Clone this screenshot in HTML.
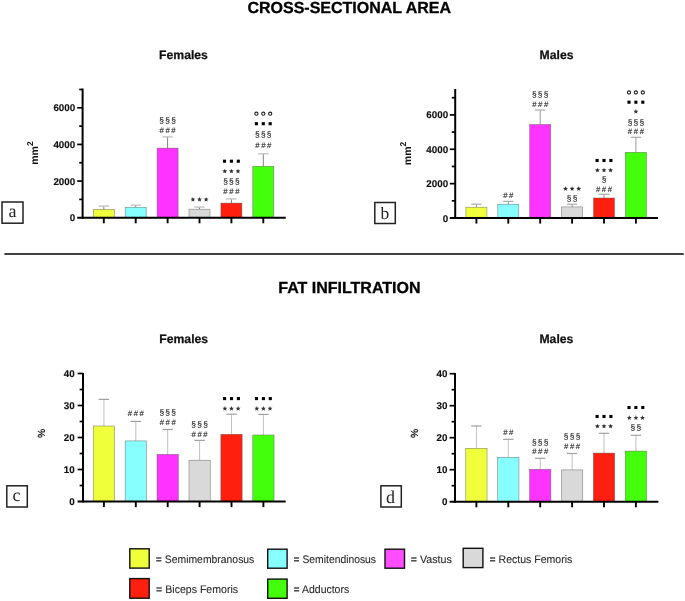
<!DOCTYPE html>
<html><head><meta charset="utf-8"><style>
html,body{margin:0;padding:0;background:#fff;}
body{width:685px;height:601px;overflow:hidden;}
svg{display:block;will-change:transform;}
text{font-family:"Liberation Sans",sans-serif;text-rendering:geometricPrecision;}
.yl{font-size:9.8px;stroke:#111;stroke-width:0.15px;font-weight:bold;text-anchor:end;fill:#111;}
.an{font-size:7px;text-anchor:middle;fill:#2a2a2a;stroke:#2a2a2a;stroke-width:0.12px;}
.tt{font-size:16px;font-weight:bold;text-anchor:middle;fill:#000;stroke:#000;stroke-width:0.3px;}
.st{font-size:12.2px;font-weight:bold;text-anchor:middle;fill:#111;stroke:#111;stroke-width:0.25px;}
.ax{font-size:10.5px;font-weight:bold;fill:#111;}
.bx{font-family:"Liberation Serif",serif;font-size:18px;text-anchor:middle;fill:#222;}
.lg{font-size:11px;fill:#2a2a2a;stroke:#2a2a2a;stroke-width:0.1px;}
</style></head><body>
<svg width="685" height="601" viewBox="0 0 685 601">
<text x="349.2" y="13.2" class="tt">CROSS-SECTIONAL AREA</text>
<text x="183.5" y="58.9" class="st">Females</text>
<text x="556.5" y="58.8" class="st">Males</text>
<line x1="4.4" y1="254" x2="683.7" y2="254" stroke="#000" stroke-width="1.7"/>
<text x="349.4" y="293" class="tt">FAT INFILTRATION</text>
<text x="183.7" y="342.8" class="st">Females</text>
<text x="556.4" y="342.6" class="st">Males</text>
<!-- y-axis titles -->
<text transform="translate(37.9,164.8) rotate(-90)" class="ax">mm<tspan dy="-5.3" style="font-size:8.5px">2</tspan></text>
<text transform="translate(411,165.2) rotate(-90)" class="ax">mm<tspan dy="-5.3" style="font-size:8.5px">2</tspan></text>
<text transform="translate(44.8,438) rotate(-90)" class="ax">%</text>
<text transform="translate(417.8,438) rotate(-90)" class="ax">%</text>
<!-- panel boxes -->
<rect x="2" y="202" width="21" height="21.2" fill="none" stroke="#222" stroke-width="1.5"/>
<text x="12.4" y="216.9" class="bx">a</text>
<rect x="374.8" y="202.5" width="20.5" height="21" fill="none" stroke="#222" stroke-width="1.5"/>
<text x="384.9" y="219.1" class="bx" style="font-size:17.4px">b</text>
<rect x="6.8" y="485.8" width="20.5" height="21.2" fill="none" stroke="#222" stroke-width="1.5"/>
<text x="16.4" y="501" class="bx">c</text>
<rect x="380.9" y="485.8" width="20.4" height="21.2" fill="none" stroke="#222" stroke-width="1.5"/>
<text x="390.5" y="502.6" class="bx">d</text>
<line x1="103.8" y1="206.1" x2="103.8" y2="209.3" stroke="#808080" stroke-width="1"/>
<line x1="98.6" y1="206.1" x2="109" y2="206.1" stroke="#c4c4c4" stroke-width="1.4"/>
<rect x="93.3" y="209.3" width="21" height="8.4" fill="#f0ff3c" stroke="#555" stroke-opacity="0.7" stroke-width="0.6"/>
<line x1="103.8" y1="217.7" x2="103.8" y2="223.3" stroke="#000" stroke-width="1.9"/>
<line x1="135.7" y1="205.2" x2="135.7" y2="207.3" stroke="#808080" stroke-width="1"/>
<line x1="130.5" y1="205.2" x2="140.9" y2="205.2" stroke="#c4c4c4" stroke-width="1.4"/>
<rect x="125.2" y="207.3" width="21" height="10.4" fill="#88ffff" stroke="#555" stroke-opacity="0.7" stroke-width="0.6"/>
<line x1="135.7" y1="217.7" x2="135.7" y2="223.3" stroke="#000" stroke-width="1.9"/>
<line x1="167.6" y1="136.9" x2="167.6" y2="148.1" stroke="#808080" stroke-width="1"/>
<line x1="162.4" y1="136.9" x2="172.8" y2="136.9" stroke="#c4c4c4" stroke-width="1.4"/>
<rect x="157.1" y="148.1" width="21" height="69.6" fill="#ff33ff" stroke="#555" stroke-opacity="0.7" stroke-width="0.6"/>
<line x1="167.6" y1="217.7" x2="167.6" y2="223.3" stroke="#000" stroke-width="1.9"/>
<text x="161.7" y="133.35" class="an" style="font-size:7.8px">#</text>
<text x="167.6" y="133.35" class="an" style="font-size:7.8px">#</text>
<text x="173.5" y="133.35" class="an" style="font-size:7.8px">#</text>
<text x="161.7" y="123.1" class="an" style="font-size:8.4px">§</text>
<text x="167.6" y="123.1" class="an" style="font-size:8.4px">§</text>
<text x="173.5" y="123.1" class="an" style="font-size:8.4px">§</text>
<line x1="199.5" y1="207.1" x2="199.5" y2="209.2" stroke="#808080" stroke-width="1"/>
<line x1="194.3" y1="207.1" x2="204.7" y2="207.1" stroke="#c4c4c4" stroke-width="1.4"/>
<rect x="189" y="209.2" width="21" height="8.5" fill="#d9d9d9" stroke="#555" stroke-opacity="0.7" stroke-width="0.6"/>
<line x1="199.5" y1="217.7" x2="199.5" y2="223.3" stroke="#000" stroke-width="1.9"/>
<polygon points="192.9,196.95 193.57,198.57 195.33,198.71 193.99,199.85 194.4,201.56 192.9,200.65 191.4,201.56 191.81,199.85 190.47,198.71 192.23,198.57" fill="#333"/>
<polygon points="199.5,196.95 200.17,198.57 201.93,198.71 200.59,199.85 201,201.56 199.5,200.65 198,201.56 198.41,199.85 197.07,198.71 198.83,198.57" fill="#333"/>
<polygon points="206.1,196.95 206.77,198.57 208.53,198.71 207.19,199.85 207.6,201.56 206.1,200.65 204.6,201.56 205.01,199.85 203.67,198.71 205.43,198.57" fill="#333"/>
<line x1="231.4" y1="198.9" x2="231.4" y2="203.1" stroke="#808080" stroke-width="1"/>
<line x1="226.2" y1="198.9" x2="236.6" y2="198.9" stroke="#c4c4c4" stroke-width="1.4"/>
<rect x="220.9" y="203.1" width="21" height="14.6" fill="#ff1f0e" stroke="#555" stroke-opacity="0.7" stroke-width="0.6"/>
<line x1="231.4" y1="217.7" x2="231.4" y2="223.3" stroke="#000" stroke-width="1.9"/>
<text x="225.5" y="193.85" class="an" style="font-size:7.8px">#</text>
<text x="231.4" y="193.85" class="an" style="font-size:7.8px">#</text>
<text x="237.3" y="193.85" class="an" style="font-size:7.8px">#</text>
<text x="225.5" y="184.2" class="an" style="font-size:8.4px">§</text>
<text x="231.4" y="184.2" class="an" style="font-size:8.4px">§</text>
<text x="237.3" y="184.2" class="an" style="font-size:8.4px">§</text>
<polygon points="224.8,168.75 225.47,170.37 227.23,170.51 225.89,171.65 226.3,173.36 224.8,172.45 223.3,173.36 223.71,171.65 222.37,170.51 224.13,170.37" fill="#333"/>
<polygon points="231.4,168.75 232.07,170.37 233.83,170.51 232.49,171.65 232.9,173.36 231.4,172.45 229.9,173.36 230.31,171.65 228.97,170.51 230.73,170.37" fill="#333"/>
<polygon points="238,168.75 238.67,170.37 240.43,170.51 239.09,171.65 239.5,173.36 238,172.45 236.5,173.36 236.91,171.65 235.57,170.51 237.33,170.37" fill="#333"/>
<rect x="222.95" y="159.65" width="3.1" height="3.1" fill="#000"/>
<rect x="229.85" y="159.65" width="3.1" height="3.1" fill="#000"/>
<rect x="236.75" y="159.65" width="3.1" height="3.1" fill="#000"/>
<line x1="263.3" y1="153.75" x2="263.3" y2="166.25" stroke="#808080" stroke-width="1"/>
<line x1="258.1" y1="153.75" x2="268.5" y2="153.75" stroke="#c4c4c4" stroke-width="1.4"/>
<rect x="252.8" y="166.25" width="21" height="51.45" fill="#44ff0c" stroke="#555" stroke-opacity="0.7" stroke-width="0.6"/>
<line x1="263.3" y1="217.7" x2="263.3" y2="223.3" stroke="#000" stroke-width="1.9"/>
<text x="257.4" y="147.55" class="an" style="font-size:7.8px">#</text>
<text x="263.3" y="147.55" class="an" style="font-size:7.8px">#</text>
<text x="269.2" y="147.55" class="an" style="font-size:7.8px">#</text>
<text x="257.4" y="136.7" class="an" style="font-size:8.4px">§</text>
<text x="263.3" y="136.7" class="an" style="font-size:8.4px">§</text>
<text x="269.2" y="136.7" class="an" style="font-size:8.4px">§</text>
<rect x="254.85" y="122.15" width="3.1" height="3.1" fill="#000"/>
<rect x="261.75" y="122.15" width="3.1" height="3.1" fill="#000"/>
<rect x="268.65" y="122.15" width="3.1" height="3.1" fill="#000"/>
<circle cx="256.4" cy="113.7" r="1.6" fill="none" stroke="#222" stroke-width="1.1"/>
<circle cx="263.3" cy="113.7" r="1.6" fill="none" stroke="#222" stroke-width="1.1"/>
<circle cx="270.2" cy="113.7" r="1.6" fill="none" stroke="#222" stroke-width="1.1"/>
<line x1="82.6" y1="88.5" x2="82.6" y2="218.7" stroke="#000" stroke-width="2"/>
<line x1="77.2" y1="217.7" x2="285.75" y2="217.7" stroke="#000" stroke-width="2"/>
<text x="75.2" y="221.25" class="yl">0</text>
<line x1="79.2" y1="199.38" x2="82.6" y2="199.38" stroke="#000" stroke-width="1.7"/>
<line x1="77.2" y1="181.07" x2="82.6" y2="181.07" stroke="#000" stroke-width="1.7"/>
<text x="75.2" y="184.62" class="yl">2000</text>
<line x1="79.2" y1="162.75" x2="82.6" y2="162.75" stroke="#000" stroke-width="1.7"/>
<line x1="77.2" y1="144.43" x2="82.6" y2="144.43" stroke="#000" stroke-width="1.7"/>
<text x="75.2" y="147.98" class="yl">4000</text>
<line x1="79.2" y1="126.12" x2="82.6" y2="126.12" stroke="#000" stroke-width="1.7"/>
<line x1="77.2" y1="107.8" x2="82.6" y2="107.8" stroke="#000" stroke-width="1.7"/>
<text x="75.2" y="111.35" class="yl">6000</text>
<line x1="79.2" y1="89.48" x2="82.6" y2="89.48" stroke="#000" stroke-width="1.7"/>
<line x1="476.4" y1="204.2" x2="476.4" y2="207.2" stroke="#999999" stroke-width="1"/>
<line x1="471.2" y1="204.2" x2="481.6" y2="204.2" stroke="#aaaaaa" stroke-width="1.2"/>
<rect x="465.9" y="207.2" width="21" height="10.8" fill="#f0ff3c" stroke="#555" stroke-opacity="0.7" stroke-width="0.6"/>
<line x1="476.4" y1="218" x2="476.4" y2="223.6" stroke="#000" stroke-width="1.9"/>
<line x1="508.3" y1="201.4" x2="508.3" y2="204.2" stroke="#999999" stroke-width="1"/>
<line x1="503.1" y1="201.4" x2="513.5" y2="201.4" stroke="#aaaaaa" stroke-width="1.2"/>
<rect x="497.8" y="204.2" width="21" height="13.8" fill="#88ffff" stroke="#555" stroke-opacity="0.7" stroke-width="0.6"/>
<line x1="508.3" y1="218" x2="508.3" y2="223.6" stroke="#000" stroke-width="1.9"/>
<text x="505.35" y="198.25" class="an" style="font-size:7.8px">#</text>
<text x="511.25" y="198.25" class="an" style="font-size:7.8px">#</text>
<line x1="540.2" y1="110" x2="540.2" y2="124.5" stroke="#999999" stroke-width="1"/>
<line x1="535" y1="110" x2="545.4" y2="110" stroke="#aaaaaa" stroke-width="1.2"/>
<rect x="529.7" y="124.5" width="21" height="93.5" fill="#ff33ff" stroke="#555" stroke-opacity="0.7" stroke-width="0.6"/>
<line x1="540.2" y1="218" x2="540.2" y2="223.6" stroke="#000" stroke-width="1.9"/>
<text x="534.3" y="107.05" class="an" style="font-size:7.8px">#</text>
<text x="540.2" y="107.05" class="an" style="font-size:7.8px">#</text>
<text x="546.1" y="107.05" class="an" style="font-size:7.8px">#</text>
<text x="534.3" y="97.2" class="an" style="font-size:8.4px">§</text>
<text x="540.2" y="97.2" class="an" style="font-size:8.4px">§</text>
<text x="546.1" y="97.2" class="an" style="font-size:8.4px">§</text>
<line x1="572.1" y1="204.2" x2="572.1" y2="206.9" stroke="#999999" stroke-width="1"/>
<line x1="566.9" y1="204.2" x2="577.3" y2="204.2" stroke="#aaaaaa" stroke-width="1.2"/>
<rect x="561.6" y="206.9" width="21" height="11.1" fill="#d9d9d9" stroke="#555" stroke-opacity="0.7" stroke-width="0.6"/>
<line x1="572.1" y1="218" x2="572.1" y2="223.6" stroke="#000" stroke-width="1.9"/>
<text x="569.15" y="200.5" class="an" style="font-size:8.4px">§</text>
<text x="575.05" y="200.5" class="an" style="font-size:8.4px">§</text>
<polygon points="565.5,186.25 566.17,187.87 567.93,188.01 566.59,189.15 567,190.86 565.5,189.95 564,190.86 564.41,189.15 563.07,188.01 564.83,187.87" fill="#333"/>
<polygon points="572.1,186.25 572.77,187.87 574.53,188.01 573.19,189.15 573.6,190.86 572.1,189.95 570.6,190.86 571.01,189.15 569.67,188.01 571.43,187.87" fill="#333"/>
<polygon points="578.7,186.25 579.37,187.87 581.13,188.01 579.79,189.15 580.2,190.86 578.7,189.95 577.2,190.86 577.61,189.15 576.27,188.01 578.03,187.87" fill="#333"/>
<line x1="604" y1="194.3" x2="604" y2="198" stroke="#999999" stroke-width="1"/>
<line x1="598.8" y1="194.3" x2="609.2" y2="194.3" stroke="#aaaaaa" stroke-width="1.2"/>
<rect x="593.5" y="198" width="21" height="20" fill="#ff1f0e" stroke="#555" stroke-opacity="0.7" stroke-width="0.6"/>
<line x1="604" y1="218" x2="604" y2="223.6" stroke="#000" stroke-width="1.9"/>
<text x="598.1" y="192.15" class="an" style="font-size:7.8px">#</text>
<text x="604" y="192.15" class="an" style="font-size:7.8px">#</text>
<text x="609.9" y="192.15" class="an" style="font-size:7.8px">#</text>
<text x="604" y="181.8" class="an" style="font-size:8.4px">§</text>
<polygon points="597.4,167.75 598.07,169.37 599.83,169.51 598.49,170.65 598.9,172.36 597.4,171.45 595.9,172.36 596.31,170.65 594.97,169.51 596.73,169.37" fill="#333"/>
<polygon points="604,167.75 604.67,169.37 606.43,169.51 605.09,170.65 605.5,172.36 604,171.45 602.5,172.36 602.91,170.65 601.57,169.51 603.33,169.37" fill="#333"/>
<polygon points="610.6,167.75 611.27,169.37 613.03,169.51 611.69,170.65 612.1,172.36 610.6,171.45 609.1,172.36 609.51,170.65 608.17,169.51 609.93,169.37" fill="#333"/>
<rect x="595.55" y="158.95" width="3.1" height="3.1" fill="#000"/>
<rect x="602.45" y="158.95" width="3.1" height="3.1" fill="#000"/>
<rect x="609.35" y="158.95" width="3.1" height="3.1" fill="#000"/>
<line x1="635.9" y1="137.3" x2="635.9" y2="152.3" stroke="#999999" stroke-width="1"/>
<line x1="630.7" y1="137.3" x2="641.1" y2="137.3" stroke="#aaaaaa" stroke-width="1.2"/>
<rect x="625.4" y="152.3" width="21" height="65.7" fill="#44ff0c" stroke="#555" stroke-opacity="0.7" stroke-width="0.6"/>
<line x1="635.9" y1="218" x2="635.9" y2="223.6" stroke="#000" stroke-width="1.9"/>
<text x="630" y="134.35" class="an" style="font-size:7.8px">#</text>
<text x="635.9" y="134.35" class="an" style="font-size:7.8px">#</text>
<text x="641.8" y="134.35" class="an" style="font-size:7.8px">#</text>
<text x="630" y="124.5" class="an" style="font-size:8.4px">§</text>
<text x="635.9" y="124.5" class="an" style="font-size:8.4px">§</text>
<text x="641.8" y="124.5" class="an" style="font-size:8.4px">§</text>
<polygon points="635.9,109.05 636.57,110.67 638.33,110.81 636.99,111.95 637.4,113.66 635.9,112.75 634.4,113.66 634.81,111.95 633.47,110.81 635.23,110.67" fill="#333"/>
<rect x="627.45" y="100.65" width="3.1" height="3.1" fill="#000"/>
<rect x="634.35" y="100.65" width="3.1" height="3.1" fill="#000"/>
<rect x="641.25" y="100.65" width="3.1" height="3.1" fill="#000"/>
<circle cx="629" cy="92.5" r="1.6" fill="none" stroke="#222" stroke-width="1.1"/>
<circle cx="635.9" cy="92.5" r="1.6" fill="none" stroke="#222" stroke-width="1.1"/>
<circle cx="642.8" cy="92.5" r="1.6" fill="none" stroke="#222" stroke-width="1.1"/>
<line x1="455.2" y1="89" x2="455.2" y2="219" stroke="#000" stroke-width="2"/>
<line x1="449.8" y1="218" x2="658" y2="218" stroke="#000" stroke-width="2"/>
<text x="448.1" y="221.55" class="yl">0</text>
<line x1="451.8" y1="200.82" x2="455.2" y2="200.82" stroke="#000" stroke-width="1.7"/>
<line x1="449.8" y1="183.63" x2="455.2" y2="183.63" stroke="#000" stroke-width="1.7"/>
<text x="448.1" y="187.18" class="yl">2000</text>
<line x1="451.8" y1="166.45" x2="455.2" y2="166.45" stroke="#000" stroke-width="1.7"/>
<line x1="449.8" y1="149.27" x2="455.2" y2="149.27" stroke="#000" stroke-width="1.7"/>
<text x="448.1" y="152.82" class="yl">4000</text>
<line x1="451.8" y1="132.08" x2="455.2" y2="132.08" stroke="#000" stroke-width="1.7"/>
<line x1="449.8" y1="114.9" x2="455.2" y2="114.9" stroke="#000" stroke-width="1.7"/>
<text x="448.1" y="118.45" class="yl">6000</text>
<line x1="451.8" y1="97.72" x2="455.2" y2="97.72" stroke="#000" stroke-width="1.7"/>
<line x1="103.9" y1="399.4" x2="103.9" y2="426" stroke="#c0c0c0" stroke-width="1"/>
<line x1="98.7" y1="399.4" x2="109.1" y2="399.4" stroke="#a0a0a0" stroke-width="1.2"/>
<rect x="93.25" y="426" width="21.3" height="75.5" fill="#f0ff3c" stroke="#555" stroke-opacity="0.7" stroke-width="0.6"/>
<line x1="103.9" y1="501.5" x2="103.9" y2="507.1" stroke="#000" stroke-width="1.9"/>
<line x1="135.8" y1="421.4" x2="135.8" y2="440.9" stroke="#c0c0c0" stroke-width="1"/>
<line x1="130.6" y1="421.4" x2="141" y2="421.4" stroke="#a0a0a0" stroke-width="1.2"/>
<rect x="125.15" y="440.9" width="21.3" height="60.6" fill="#88ffff" stroke="#555" stroke-opacity="0.7" stroke-width="0.6"/>
<line x1="135.8" y1="501.5" x2="135.8" y2="507.1" stroke="#000" stroke-width="1.9"/>
<text x="129.9" y="416.15" class="an" style="font-size:7.8px">#</text>
<text x="135.8" y="416.15" class="an" style="font-size:7.8px">#</text>
<text x="141.7" y="416.15" class="an" style="font-size:7.8px">#</text>
<line x1="167.7" y1="429.5" x2="167.7" y2="454.4" stroke="#c0c0c0" stroke-width="1"/>
<line x1="162.5" y1="429.5" x2="172.9" y2="429.5" stroke="#a0a0a0" stroke-width="1.2"/>
<rect x="157.05" y="454.4" width="21.3" height="47.1" fill="#ff33ff" stroke="#555" stroke-opacity="0.7" stroke-width="0.6"/>
<line x1="167.7" y1="501.5" x2="167.7" y2="507.1" stroke="#000" stroke-width="1.9"/>
<text x="161.8" y="424.85" class="an" style="font-size:7.8px">#</text>
<text x="167.7" y="424.85" class="an" style="font-size:7.8px">#</text>
<text x="173.6" y="424.85" class="an" style="font-size:7.8px">#</text>
<text x="161.8" y="414.7" class="an" style="font-size:8.4px">§</text>
<text x="167.7" y="414.7" class="an" style="font-size:8.4px">§</text>
<text x="173.6" y="414.7" class="an" style="font-size:8.4px">§</text>
<line x1="199.6" y1="440.4" x2="199.6" y2="460.2" stroke="#c0c0c0" stroke-width="1"/>
<line x1="194.4" y1="440.4" x2="204.8" y2="440.4" stroke="#a0a0a0" stroke-width="1.2"/>
<rect x="188.95" y="460.2" width="21.3" height="41.3" fill="#d9d9d9" stroke="#555" stroke-opacity="0.7" stroke-width="0.6"/>
<line x1="199.6" y1="501.5" x2="199.6" y2="507.1" stroke="#000" stroke-width="1.9"/>
<text x="193.7" y="437.05" class="an" style="font-size:7.8px">#</text>
<text x="199.6" y="437.05" class="an" style="font-size:7.8px">#</text>
<text x="205.5" y="437.05" class="an" style="font-size:7.8px">#</text>
<text x="193.7" y="426.8" class="an" style="font-size:8.4px">§</text>
<text x="199.6" y="426.8" class="an" style="font-size:8.4px">§</text>
<text x="205.5" y="426.8" class="an" style="font-size:8.4px">§</text>
<line x1="231.5" y1="414.2" x2="231.5" y2="434.3" stroke="#c0c0c0" stroke-width="1"/>
<line x1="226.3" y1="414.2" x2="236.7" y2="414.2" stroke="#a0a0a0" stroke-width="1.2"/>
<rect x="220.85" y="434.3" width="21.3" height="67.2" fill="#ff1f0e" stroke="#555" stroke-opacity="0.7" stroke-width="0.6"/>
<line x1="231.5" y1="501.5" x2="231.5" y2="507.1" stroke="#000" stroke-width="1.9"/>
<polygon points="224.9,406.05 225.57,407.67 227.33,407.81 225.99,408.95 226.4,410.66 224.9,409.75 223.4,410.66 223.81,408.95 222.47,407.81 224.23,407.67" fill="#333"/>
<polygon points="231.5,406.05 232.17,407.67 233.93,407.81 232.59,408.95 233,410.66 231.5,409.75 230,410.66 230.41,408.95 229.07,407.81 230.83,407.67" fill="#333"/>
<polygon points="238.1,406.05 238.77,407.67 240.53,407.81 239.19,408.95 239.6,410.66 238.1,409.75 236.6,410.66 237.01,408.95 235.67,407.81 237.43,407.67" fill="#333"/>
<rect x="223.05" y="397.05" width="3.1" height="3.1" fill="#000"/>
<rect x="229.95" y="397.05" width="3.1" height="3.1" fill="#000"/>
<rect x="236.85" y="397.05" width="3.1" height="3.1" fill="#000"/>
<line x1="263.4" y1="414.4" x2="263.4" y2="435" stroke="#c0c0c0" stroke-width="1"/>
<line x1="258.2" y1="414.4" x2="268.6" y2="414.4" stroke="#a0a0a0" stroke-width="1.2"/>
<rect x="252.75" y="435" width="21.3" height="66.5" fill="#44ff0c" stroke="#555" stroke-opacity="0.7" stroke-width="0.6"/>
<line x1="263.4" y1="501.5" x2="263.4" y2="507.1" stroke="#000" stroke-width="1.9"/>
<polygon points="256.8,406.05 257.47,407.67 259.23,407.81 257.89,408.95 258.3,410.66 256.8,409.75 255.3,410.66 255.71,408.95 254.37,407.81 256.13,407.67" fill="#333"/>
<polygon points="263.4,406.05 264.07,407.67 265.83,407.81 264.49,408.95 264.9,410.66 263.4,409.75 261.9,410.66 262.31,408.95 260.97,407.81 262.73,407.67" fill="#333"/>
<polygon points="270,406.05 270.67,407.67 272.43,407.81 271.09,408.95 271.5,410.66 270,409.75 268.5,410.66 268.91,408.95 267.57,407.81 269.33,407.67" fill="#333"/>
<rect x="254.95" y="397.05" width="3.1" height="3.1" fill="#000"/>
<rect x="261.85" y="397.05" width="3.1" height="3.1" fill="#000"/>
<rect x="268.75" y="397.05" width="3.1" height="3.1" fill="#000"/>
<line x1="83" y1="372.9" x2="83" y2="502.5" stroke="#000" stroke-width="2"/>
<line x1="77.6" y1="501.5" x2="285.7" y2="501.5" stroke="#000" stroke-width="2"/>
<text x="74.6" y="505.05" class="yl">0</text>
<line x1="79.6" y1="485.5" x2="83" y2="485.5" stroke="#000" stroke-width="1.7"/>
<line x1="77.6" y1="469.5" x2="83" y2="469.5" stroke="#000" stroke-width="1.7"/>
<text x="74.6" y="473.05" class="yl">10</text>
<line x1="79.6" y1="453.5" x2="83" y2="453.5" stroke="#000" stroke-width="1.7"/>
<line x1="77.6" y1="437.5" x2="83" y2="437.5" stroke="#000" stroke-width="1.7"/>
<text x="74.6" y="441.05" class="yl">20</text>
<line x1="79.6" y1="421.5" x2="83" y2="421.5" stroke="#000" stroke-width="1.7"/>
<line x1="77.6" y1="405.5" x2="83" y2="405.5" stroke="#000" stroke-width="1.7"/>
<text x="74.6" y="409.05" class="yl">30</text>
<line x1="79.6" y1="389.5" x2="83" y2="389.5" stroke="#000" stroke-width="1.7"/>
<line x1="77.6" y1="373.5" x2="83" y2="373.5" stroke="#000" stroke-width="1.7"/>
<text x="74.6" y="377.05" class="yl">40</text>
<line x1="476.4" y1="426" x2="476.4" y2="448.3" stroke="#c0c0c0" stroke-width="1"/>
<line x1="471.2" y1="426" x2="481.6" y2="426" stroke="#a0a0a0" stroke-width="1.2"/>
<rect x="465.75" y="448.3" width="21.3" height="53.4" fill="#f0ff3c" stroke="#555" stroke-opacity="0.7" stroke-width="0.6"/>
<line x1="476.4" y1="501.7" x2="476.4" y2="507.3" stroke="#000" stroke-width="1.9"/>
<line x1="508.3" y1="439.3" x2="508.3" y2="457.3" stroke="#c0c0c0" stroke-width="1"/>
<line x1="503.1" y1="439.3" x2="513.5" y2="439.3" stroke="#a0a0a0" stroke-width="1.2"/>
<rect x="497.65" y="457.3" width="21.3" height="44.4" fill="#88ffff" stroke="#555" stroke-opacity="0.7" stroke-width="0.6"/>
<line x1="508.3" y1="501.7" x2="508.3" y2="507.3" stroke="#000" stroke-width="1.9"/>
<text x="505.35" y="435.05" class="an" style="font-size:7.8px">#</text>
<text x="511.25" y="435.05" class="an" style="font-size:7.8px">#</text>
<line x1="540.2" y1="458.3" x2="540.2" y2="469.3" stroke="#c0c0c0" stroke-width="1"/>
<line x1="535" y1="458.3" x2="545.4" y2="458.3" stroke="#a0a0a0" stroke-width="1.2"/>
<rect x="529.55" y="469.3" width="21.3" height="32.4" fill="#ff33ff" stroke="#555" stroke-opacity="0.7" stroke-width="0.6"/>
<line x1="540.2" y1="501.7" x2="540.2" y2="507.3" stroke="#000" stroke-width="1.9"/>
<text x="534.3" y="454.15" class="an" style="font-size:7.8px">#</text>
<text x="540.2" y="454.15" class="an" style="font-size:7.8px">#</text>
<text x="546.1" y="454.15" class="an" style="font-size:7.8px">#</text>
<text x="534.3" y="444.7" class="an" style="font-size:8.4px">§</text>
<text x="540.2" y="444.7" class="an" style="font-size:8.4px">§</text>
<text x="546.1" y="444.7" class="an" style="font-size:8.4px">§</text>
<line x1="572.1" y1="453.5" x2="572.1" y2="469.9" stroke="#c0c0c0" stroke-width="1"/>
<line x1="566.9" y1="453.5" x2="577.3" y2="453.5" stroke="#a0a0a0" stroke-width="1.2"/>
<rect x="561.45" y="469.9" width="21.3" height="31.8" fill="#d9d9d9" stroke="#555" stroke-opacity="0.7" stroke-width="0.6"/>
<line x1="572.1" y1="501.7" x2="572.1" y2="507.3" stroke="#000" stroke-width="1.9"/>
<text x="566.2" y="449.15" class="an" style="font-size:7.8px">#</text>
<text x="572.1" y="449.15" class="an" style="font-size:7.8px">#</text>
<text x="578" y="449.15" class="an" style="font-size:7.8px">#</text>
<text x="566.2" y="439.2" class="an" style="font-size:8.4px">§</text>
<text x="572.1" y="439.2" class="an" style="font-size:8.4px">§</text>
<text x="578" y="439.2" class="an" style="font-size:8.4px">§</text>
<line x1="604" y1="433.3" x2="604" y2="453.1" stroke="#c0c0c0" stroke-width="1"/>
<line x1="598.8" y1="433.3" x2="609.2" y2="433.3" stroke="#a0a0a0" stroke-width="1.2"/>
<rect x="593.35" y="453.1" width="21.3" height="48.6" fill="#ff1f0e" stroke="#555" stroke-opacity="0.7" stroke-width="0.6"/>
<line x1="604" y1="501.7" x2="604" y2="507.3" stroke="#000" stroke-width="1.9"/>
<polygon points="597.4,423.75 598.07,425.37 599.83,425.51 598.49,426.65 598.9,428.36 597.4,427.45 595.9,428.36 596.31,426.65 594.97,425.51 596.73,425.37" fill="#333"/>
<polygon points="604,423.75 604.67,425.37 606.43,425.51 605.09,426.65 605.5,428.36 604,427.45 602.5,428.36 602.91,426.65 601.57,425.51 603.33,425.37" fill="#333"/>
<polygon points="610.6,423.75 611.27,425.37 613.03,425.51 611.69,426.65 612.1,428.36 610.6,427.45 609.1,428.36 609.51,426.65 608.17,425.51 609.93,425.37" fill="#333"/>
<rect x="595.55" y="414.95" width="3.1" height="3.1" fill="#000"/>
<rect x="602.45" y="414.95" width="3.1" height="3.1" fill="#000"/>
<rect x="609.35" y="414.95" width="3.1" height="3.1" fill="#000"/>
<line x1="635.9" y1="435.3" x2="635.9" y2="451.1" stroke="#c0c0c0" stroke-width="1"/>
<line x1="630.7" y1="435.3" x2="641.1" y2="435.3" stroke="#a0a0a0" stroke-width="1.2"/>
<rect x="625.25" y="451.1" width="21.3" height="50.6" fill="#44ff0c" stroke="#555" stroke-opacity="0.7" stroke-width="0.6"/>
<line x1="635.9" y1="501.7" x2="635.9" y2="507.3" stroke="#000" stroke-width="1.9"/>
<text x="632.95" y="430" class="an" style="font-size:8.4px">§</text>
<text x="638.85" y="430" class="an" style="font-size:8.4px">§</text>
<polygon points="629.3,415.35 629.97,416.97 631.73,417.11 630.39,418.25 630.8,419.96 629.3,419.05 627.8,419.96 628.21,418.25 626.87,417.11 628.63,416.97" fill="#333"/>
<polygon points="635.9,415.35 636.57,416.97 638.33,417.11 636.99,418.25 637.4,419.96 635.9,419.05 634.4,419.96 634.81,418.25 633.47,417.11 635.23,416.97" fill="#333"/>
<polygon points="642.5,415.35 643.17,416.97 644.93,417.11 643.59,418.25 644,419.96 642.5,419.05 641,419.96 641.41,418.25 640.07,417.11 641.83,416.97" fill="#333"/>
<rect x="627.45" y="405.95" width="3.1" height="3.1" fill="#000"/>
<rect x="634.35" y="405.95" width="3.1" height="3.1" fill="#000"/>
<rect x="641.25" y="405.95" width="3.1" height="3.1" fill="#000"/>
<line x1="455" y1="372.9" x2="455" y2="502.7" stroke="#000" stroke-width="2"/>
<line x1="449.6" y1="501.7" x2="658.4" y2="501.7" stroke="#000" stroke-width="2"/>
<text x="447.5" y="505.25" class="yl">0</text>
<line x1="451.6" y1="485.7" x2="455" y2="485.7" stroke="#000" stroke-width="1.7"/>
<line x1="449.6" y1="469.7" x2="455" y2="469.7" stroke="#000" stroke-width="1.7"/>
<text x="447.5" y="473.25" class="yl">10</text>
<line x1="451.6" y1="453.7" x2="455" y2="453.7" stroke="#000" stroke-width="1.7"/>
<line x1="449.6" y1="437.7" x2="455" y2="437.7" stroke="#000" stroke-width="1.7"/>
<text x="447.5" y="441.25" class="yl">20</text>
<line x1="451.6" y1="421.7" x2="455" y2="421.7" stroke="#000" stroke-width="1.7"/>
<line x1="449.6" y1="405.7" x2="455" y2="405.7" stroke="#000" stroke-width="1.7"/>
<text x="447.5" y="409.25" class="yl">30</text>
<line x1="451.6" y1="389.7" x2="455" y2="389.7" stroke="#000" stroke-width="1.7"/>
<line x1="449.6" y1="373.7" x2="455" y2="373.7" stroke="#000" stroke-width="1.7"/>
<text x="447.5" y="377.25" class="yl">40</text>
<!-- legend -->
<rect x="129.8" y="548.8" width="19.4" height="19.3" fill="#f0ff3c" stroke="#111" stroke-width="1.4"/>
<text class="lg" transform="translate(155.83,563) scale(0.9448,1)">= Semimembranosus</text>
<rect x="267.7" y="549.2" width="19.4" height="19" fill="#88ffff" stroke="#111" stroke-width="1.4"/>
<text class="lg" transform="translate(293.53,563) scale(0.9401,1)">= Semitendinosus</text>
<rect x="385" y="549.2" width="19.5" height="19" fill="#ff4dff" stroke="#111" stroke-width="1.4"/>
<text class="lg" transform="translate(410.82,563) scale(0.9686,1)">= Vastus</text>
<rect x="463.2" y="548.3" width="19.7" height="19.3" fill="#d9d9d9" stroke="#111" stroke-width="1.4"/>
<text class="lg" transform="translate(489.52,562.6) scale(0.9568,1)">= Rectus Femoris</text>
<rect x="129.8" y="578.6" width="19.4" height="19.6" fill="#ff1f0e" stroke="#111" stroke-width="1.4"/>
<text class="lg" transform="translate(156.12,593.1) scale(0.9609,1)">= Biceps Femoris</text>
<rect x="267.7" y="579.1" width="19.4" height="19.2" fill="#44ff0c" stroke="#111" stroke-width="1.4"/>
<text class="lg" transform="translate(293.52,593.1) scale(0.9530,1)">= Adductors</text>
</svg>
</body></html>
